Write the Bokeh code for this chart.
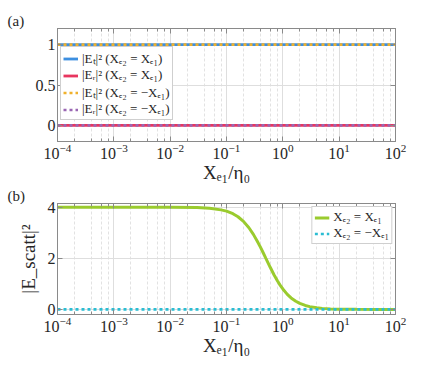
import numpy as np
from bokeh.plotting import figure
from bokeh.models import (LogAxis, LinearAxis, Legend, LegendItem, FixedTicker,
                          Range1d, LogTicker, CustomJSTickFormatter)
from bokeh.layouts import column
from bokeh.embed import file_html
from bokeh.resources import INLINE

# ---------------- data ----------------
x_ends = [1e-4, 1e2]
ET_same = [1.0, 1.0]
ER_same = [0.0, 0.0]
ET_opp = [1.0, 1.0]
ER_opp = [0.0, 0.0]

x_scatt = [1e-4, 1e-3, 1e-2, 0.03, 0.05, 0.08, 0.1, 0.13, 0.16, 0.2, 0.25, 0.3,
           0.35, 0.4, 0.45, 0.5, 0.6, 0.7, 0.8, 0.9, 1.0, 1.2, 1.4, 1.7, 2.0,
           2.5, 3.0, 4.0, 5.0, 7.0, 10.0, 20.0, 50.0, 100.0]
scatt_same = [4.00, 4.00, 4.00, 3.99, 3.96, 3.90, 3.85, 3.75, 3.63, 3.45, 3.20, 2.94,
              2.68, 2.44, 2.21, 2.00, 1.64, 1.35, 1.12, 0.94, 0.80, 0.59, 0.45, 0.32, 0.235,
              0.154, 0.108, 0.062, 0.040, 0.020, 0.010, 0.0025, 0.0004, 0.0001]
scatt_opp = [0.0] * len(x_scatt)

ya_ticks = [0, 0.5, 1]
yb_ticks = [0, 2, 4]

# ---------------- style ----------------
BLUE = "#3d8fe0"
RED = "#e8365f"
ORANGE = "#f0b12c"
PURPLE = "#9a67b3"
GREEN = "#9acb2e"
CYAN = "#2bbdd3"
AX = "#8a8a8a"
TXT = "#262626"
FONT = "'Liberation Serif', serif"
BLANK = CustomJSTickFormatter(code="return '';")


def style(p, yticks, tag, ylabel=None):
    p.outline_line_color = AX
    for ax in p.xaxis + p.yaxis:
        ax.axis_line_color = AX
        ax.major_tick_line_color = AX
        ax.minor_tick_line_color = AX
        ax.major_tick_in = 5
        ax.major_tick_out = 0
        ax.minor_tick_in = 3
        ax.minor_tick_out = 0
        ax.major_label_text_font = FONT
        ax.major_label_text_font_size = "16px"
        ax.major_label_text_color = TXT
        ax.major_label_standoff = 2
        ax.axis_label_text_font = FONT
        ax.axis_label_text_font_style = "normal"
        ax.axis_label_text_font_size = "19px"
        ax.axis_label_text_color = TXT
        ax.axis_label_standoff = 0
    p.xaxis.ticker = LogTicker(desired_num_ticks=7)
    p.xaxis.axis_label = "Xₑ₁/η₀"
    p.yaxis.ticker = FixedTicker(ticks=yticks, minor_ticks=[])
    if ylabel:
        p.yaxis.axis_label = ylabel
        p.yaxis.axis_label_standoff = 6
    p.xgrid.grid_line_color = "#dedede"
    p.xgrid.minor_grid_line_color = "#e2e2e2"
    p.xgrid.minor_grid_line_dash = "3 2"
    p.ygrid.grid_line_color = "#dedede"
    top = LogAxis(ticker=LogTicker(desired_num_ticks=7), formatter=BLANK,
                  axis_line_color=AX, major_tick_line_color=AX, minor_tick_line_color=AX,
                  major_tick_in=5, major_tick_out=0, minor_tick_in=3, minor_tick_out=0,
                  major_label_standoff=0, major_label_text_font_size="2px")
    right = LinearAxis(ticker=FixedTicker(ticks=yticks, minor_ticks=[]), formatter=BLANK,
                       axis_line_color=AX, major_tick_line_color=AX,
                       major_tick_in=5, major_tick_out=0, minor_tick_out=0,
                       major_label_standoff=0, major_label_text_font_size="2px")
    p.add_layout(top, "above")
    p.add_layout(right, "right")
    p.title.text = tag
    p.title.align = "left"
    p.title.offset = -50
    p.title.standoff = 0
    p.title.text_font = FONT
    p.title.text_font_size = "15px"
    p.title.text_line_height = 0.8
    p.title.text_font_style = "normal"
    p.title.text_color = TXT


# ---------------- panel (a) ----------------
p1 = figure(frame_width=338, frame_height=113, x_axis_type="log",
            x_range=Range1d(1e-4, 1e2), y_range=Range1d(-0.2, 1.2),
            output_backend="svg", toolbar_location=None,
            min_border_left=57, min_border_right=25, min_border_top=28, min_border_bottom=40)
style(p1, ya_ticks, "(a)")
r1 = p1.line(x_ends, ET_same, line_color=BLUE, line_width=2.8)
r2 = p1.line(x_ends, ER_same, line_color=RED, line_width=2.8)
r3 = p1.line(x_ends, ET_opp, line_color=ORANGE, line_width=2.6, line_dash="3 3")
r4 = p1.line(x_ends, ER_opp, line_color=PURPLE, line_width=2.6, line_dash="3 3")
leg1 = Legend(items=[
    LegendItem(label="|Eₜ|² (Xₑ₂ = Xₑ₁)", renderers=[r1]),
    LegendItem(label="|Eᵣ|² (Xₑ₂ = Xₑ₁)", renderers=[r2]),
    LegendItem(label="|Eₜ|² (Xₑ₂ = −Xₑ₁)", renderers=[r3]),
    LegendItem(label="|Eᵣ|² (Xₑ₂ = −Xₑ₁)", renderers=[r4]),
], location=(3, 21))
p1.add_layout(leg1)

# ---------------- panel (b) ----------------
p2 = figure(frame_width=338, frame_height=111, x_axis_type="log",
            x_range=Range1d(1e-4, 1e2), y_range=Range1d(-0.2, 4.15),
            output_backend="svg", toolbar_location=None,
            min_border_left=57, min_border_right=25, min_border_top=10, min_border_bottom=40)
style(p2, yb_ticks, "(b)", "|E_scatt|²")
s1 = p2.line(x_scatt, scatt_same, line_color=GREEN, line_width=3)
s2 = p2.line(x_scatt, scatt_opp, line_color=CYAN, line_width=2.6, line_dash="3 3")
leg2 = Legend(items=[
    LegendItem(label="Xₑ₂ = Xₑ₁", renderers=[s1]),
    LegendItem(label="Xₑ₂ = −Xₑ₁", renderers=[s2]),
], location="top_right")
p2.add_layout(leg2)

for lg in (leg1, leg2):
    lg.label_text_font = FONT
    lg.label_text_font_size = "13px"
    lg.label_text_color = TXT
    lg.glyph_width = 15
    lg.glyph_height = 13
    lg.label_height = 13
    lg.spacing = 0
    lg.padding = 2
    lg.margin = 3
    lg.label_standoff = 4
    lg.border_line_color = "#a0a0a0"
    lg.background_fill_alpha = 1.0

page = column(p1, p2, spacing=0)
open("out.html", "w").write(file_html(page, INLINE))
